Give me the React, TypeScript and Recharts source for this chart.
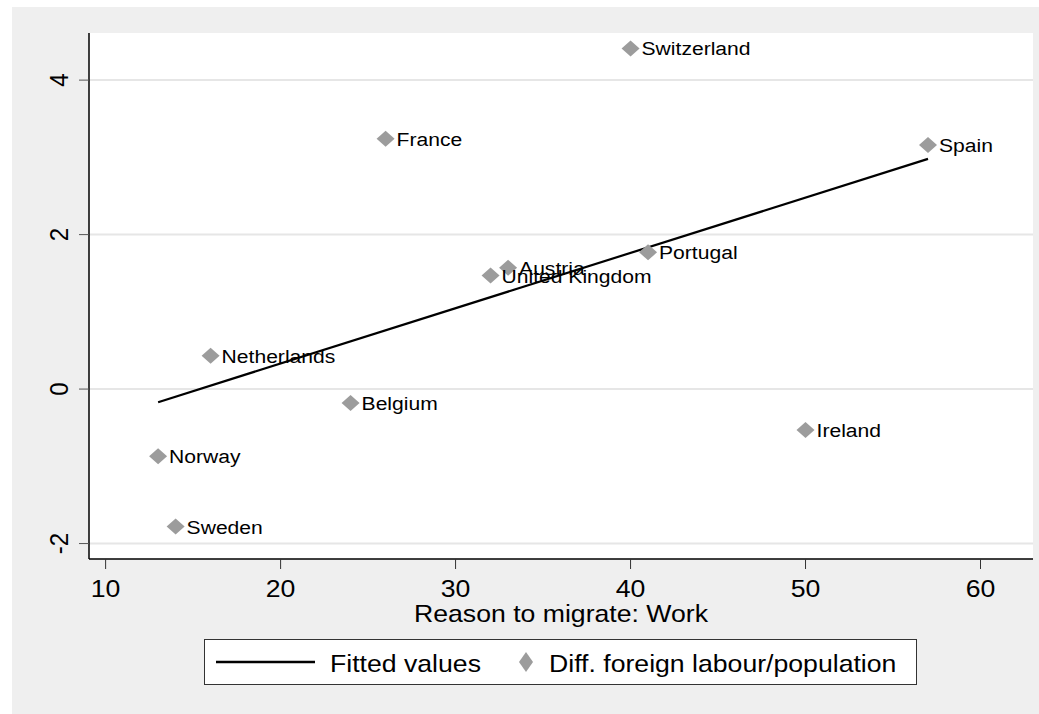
import React from 'react';
import { ScatterChart, Scatter, XAxis, YAxis, CartesianGrid } from 'recharts';

const countries = [
  'Switzerland', 'France', 'Spain', 'Portugal', 'Austria', 'United Kingdom',
  'Netherlands', 'Belgium', 'Ireland', 'Norway', 'Sweden',
];
const workShare = [40, 26, 57, 41, 33, 32, 16, 24, 50, 13, 14];
const diffLabour = [4.41, 3.24, 3.16, 1.77, 1.57, 1.47, 0.43, -0.18, -0.53, -0.87, -1.78];

const fitX = [13, 57];
const fitY = [-0.17, 2.98];

const xTicks = [10, 20, 30, 40, 50, 60];
const yTicks = [-2, 0, 2, 4];

const points = countries.map((name, i) => ({ name, x: workShare[i], y: diffLabour[i] }));
const fitted = fitX.map((x, i) => ({ x, y: fitY[i] }));

const FONT = "Arial, 'Liberation Sans', Helvetica, sans-serif";
const STRETCH = 1.11;
const MARKER = '#9c9c9c';

// stata output is a bit wider than tall, so text gets a horizontal stretch
const StretchText = ({ x, y, size, anchor = 'start', rotate = 0, children }: any) => (
  <text
    transform={`translate(${x} ${y}) scale(${STRETCH} 1)${rotate ? ` rotate(${rotate})` : ''}`}
    x={0}
    y={0}
    fontSize={size}
    fontFamily={FONT}
    textAnchor={anchor}
    fill="#000"
  >
    {children}
  </text>
);

const XTick = (props: any) => {
  const { x, y, payload } = props;
  return <StretchText x={x} y={y + 26} size={24} anchor="middle">{payload.value}</StretchText>;
};

const YTick = (props: any) => {
  const { x, y, payload } = props;
  return <StretchText x={x - 9} y={y} size={24} anchor="middle" rotate={-90}>{payload.value}</StretchText>;
};

const Diamond = (props: any) => {
  const { cx, cy, payload } = props;
  if (cx == null || cy == null) return <g />;
  return (
    <g>
      <polygon points={`${cx},${cy - 8} ${cx + 9},${cy} ${cx},${cy + 8} ${cx - 9},${cy}`} fill={MARKER} />
      <StretchText x={cx + 11} y={cy + 7} size={19}>{payload.name}</StretchText>
    </g>
  );
};

const XTitle = (props: any) => {
  const vb = props.viewBox || { x: 89, y: 559, width: 944 };
  return (
    <StretchText x={vb.x + vb.width / 2} y={vb.y + 63} size={24} anchor="middle">
      Reason to migrate: Work
    </StretchText>
  );
};

const LegendBox = () => (
  <div
    style={{
      position: 'absolute', left: 204, top: 639, width: 713, height: 46,
      boxSizing: 'border-box', border: '1px solid #333', background: '#fff',
    }}
  >
    <svg width={711} height={44} style={{ display: 'block' }}>
      <line x1={11} x2={110} y1={22} y2={22} stroke="#000" strokeWidth={2.5} />
      <StretchText x={125} y={32} size={24}>Fitted values</StretchText>
      <polygon points="321,12 328,22 321,32 314,22" fill={MARKER} />
      <StretchText x={344} y={32} size={24}>Diff. foreign labour/population</StretchText>
    </svg>
  </div>
);

export default function App() {
  return (
    <div style={{ position: 'absolute', left: 0, top: 0, width: 1039, height: 714, background: '#fff' }}>
      <div style={{ position: 'absolute', left: 12, top: 7, right: 0, bottom: 0, background: '#efefef' }} />
      <div style={{ position: 'absolute', left: 0, top: 0 }}>
        <ScatterChart width={1039} height={714} margin={{ top: 33, right: 6, left: 12, bottom: 80 }}>
          <CartesianGrid
            vertical={false}
            horizontal
            fill="#fff"
            stroke="#e6e6e6"
            strokeWidth={2}
            horizontalValues={yTicks}
          />
          <XAxis
            type="number"
            dataKey="x"
            domain={[9.05, 63]}
            allowDataOverflow
            ticks={xTicks}
            height={75}
            tickSize={10}
            tickLine={{ stroke: '#333' }}
            axisLine={{ stroke: '#000', strokeWidth: 1.5 }}
            tick={<XTick />}
            label={{ content: <XTitle /> }}
          />
          <YAxis
            type="number"
            dataKey="y"
            domain={[-2.2, 4.61]}
            allowDataOverflow
            ticks={yTicks}
            width={77}
            tickSize={10}
            tickLine={{ stroke: '#555' }}
            axisLine={{ stroke: '#000', strokeWidth: 1.5 }}
            tick={<YTick />}
          />
          <Scatter
            name="Fitted values"
            data={fitted}
            line={{ stroke: '#000', strokeWidth: 2.2 }}
            shape={() => <g />}
            isAnimationActive={false}
          />
          <Scatter
            name="Diff. foreign labour/population"
            data={points}
            shape={<Diamond />}
            isAnimationActive={false}
          />
        </ScatterChart>
      </div>
      <LegendBox />
    </div>
  );
}
